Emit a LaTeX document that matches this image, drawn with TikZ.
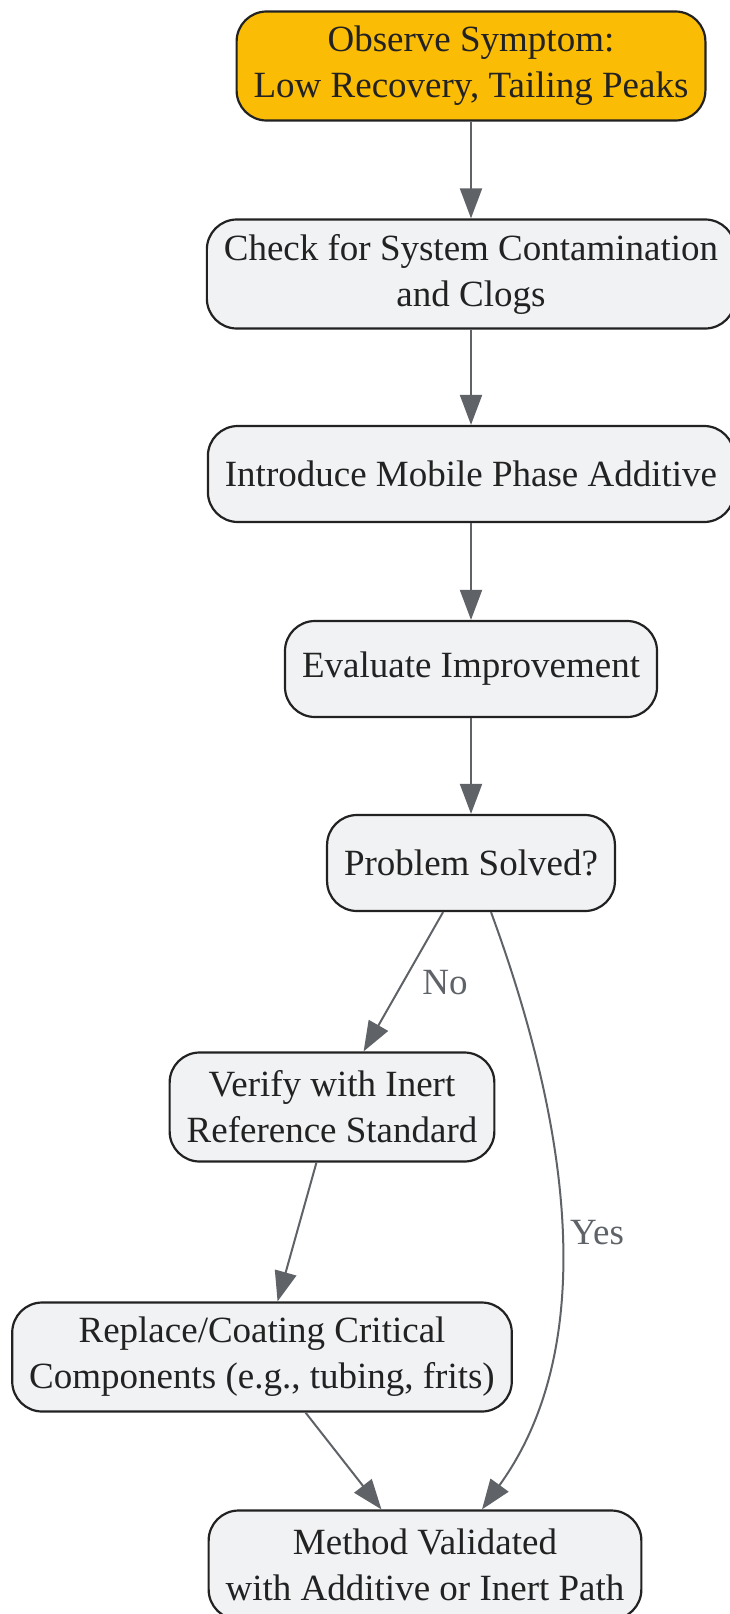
\documentclass[tikz,border=0pt]{standalone}
\usepackage{fontspec}
\setmainfont{Liberation Serif}
\usetikzlibrary{arrows.meta}
\definecolor{boxfill}{HTML}{F1F2F4}
\definecolor{startfill}{HTML}{FBBC05}
\definecolor{edgegray}{HTML}{5F6368}
\definecolor{textdark}{HTML}{222222}

\begin{document}
\begin{tikzpicture}[x=1pt,y=-1pt,
    stepbox/.style={draw=textdark, line width=2.2pt, rounded corners=30pt, fill=boxfill, text=textdark,
      align=center, font=\fontsize{37}{46}\selectfont, minimum height=96pt, inner xsep=17pt},
    arr/.style={draw=edgegray, line width=2pt, -{Triangle[length=30pt,width=22pt]}},
    lbl/.style={text=edgegray, font=\fontsize{37}{46}\selectfont}]
    \useasboundingbox (0,0) rectangle (729,1614);
    \node[stepbox, fill=startfill, minimum height=109pt] (obs) at (471,66) {Observe Symptom:\\Low Recovery, Tailing Peaks};
    \node[stepbox, minimum height=109pt] (chk) at (471,274) {Check for System Contamination\\and Clogs};
    \node[stepbox] (add) at (471,474) {Introduce Mobile Phase Additive};
    \node[stepbox] (evl) at (471,669) {Evaluate Improvement};
    \node[stepbox] (slv) at (471,863) {Problem Solved?};
    \node[stepbox, minimum height=109pt] (ver) at (332,1107) {Verify with Inert\\Reference Standard};
    \node[stepbox, minimum height=109pt] (rep) at (262,1357) {Replace/Coating Critical\\Components (e.g., tubing, frits)};
    \node[stepbox, minimum height=109pt] (val) at (425,1565) {Method Validated\\with Additive or Inert Path};
    % main line
    \draw[arr] (obs) -- (chk);
    \draw[arr] (chk) -- (add);
    \draw[arr] (add) -- (evl);
    \draw[arr] (evl) -- (slv);
    % decision
    \draw[arr] (slv) -- (ver);
    \node[lbl] (no) at (445,983) {No};
    \draw[arr] ([xshift=20pt]slv.south) .. controls (582,1160) and (590,1360) .. ([xshift=57pt]val.north);
    \node[lbl] (yes) at (597,1233) {Yes};
    \draw[arr] (ver) -- (rep);
    \draw[arr] (rep) -- (val);
\end{tikzpicture}
\end{document}
